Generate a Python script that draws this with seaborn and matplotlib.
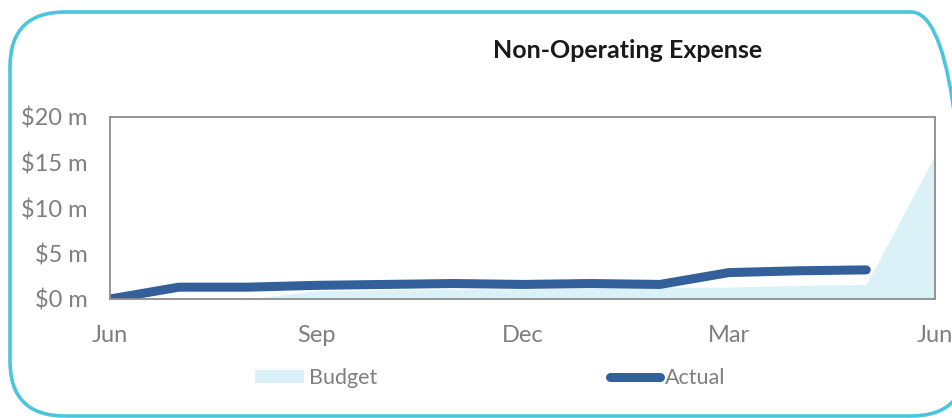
import numpy as np
import pandas as pd
import matplotlib
matplotlib.use("Agg")
import matplotlib.pyplot as plt
import matplotlib.transforms as mtransforms
import seaborn as sns
from matplotlib.patches import FancyBboxPatch, Patch
from matplotlib.lines import Line2D

# ---- data ----
months = ["Jun", "Jul", "Aug", "Sep", "Oct", "Nov", "Dec", "Jan", "Feb", "Mar", "Apr", "May", "Jun"]
budget = [0.0, 0.0, 0.0, 0.9, 1.0, 1.1, 1.1, 1.2, 1.3, 1.3, 1.5, 1.6, 15.8]
actual = [0.0, 1.3, 1.3, 1.5, 1.6, 1.7, 1.6, 1.7, 1.6, 2.9, 3.1, 3.2, np.nan]
tick_labels = ["Jun", "Sep", "Dec", "Mar", "Jun"]
y_ticks = [0, 5, 10, 15, 20]
y_labels = ["$0 m", "$5 m", "$10 m", "$15 m", "$20 m"]
title = "Non-Operating Expense"

df = pd.DataFrame({"idx": np.arange(len(months)), "month": months,
                   "Budget": budget, "Actual": actual})

sns.set_theme(style="white")
plt.rcParams["font.family"] = ["Lato", "DejaVu Sans"]

W, H = 953, 418
fig = plt.figure(figsize=(W / 100, H / 100), dpi=100)
fig.patch.set_facecolor("white")

# rounded frame (pixel coordinates)
frame = FancyBboxPatch((10, 2), 966 - 10, 406 - 2,
                       boxstyle="round,pad=0,rounding_size=55",
                       transform=mtransforms.IdentityTransform(), facecolor="none",
                       edgecolor="#4cc5df", linewidth=2.6, clip_on=False)
fig.patches.append(frame)

ax = fig.add_axes([110 / W, 1 - 299 / H, (935 - 110) / W, (299 - 117) / H])

budget_color = "#daf1f7"
actual_color = "#33609a"
grey = "#7f7f7f"

ax.fill_between(df["idx"], 0, df["Budget"], color=budget_color, linewidth=0)
sns.lineplot(data=df, x="idx", y="Actual", ax=ax, color=actual_color,
             linewidth=6.5, solid_capstyle="round", solid_joinstyle="round")

ax.set_xlim(0, 12)
ax.set_ylim(0, 20)
ax.set_xticks([0, 3, 6, 9, 12])
ax.set_xticklabels(tick_labels)
ax.set_yticks(y_ticks)
ax.set_yticklabels(y_labels)
ax.set_xlabel("")
ax.set_ylabel("")

for s in ax.spines.values():
    s.set_color("#8c8c8c")
    s.set_linewidth(1.3)
    s.set_visible(True)

ax.tick_params(axis="both", which="both", direction="out", colors="#8c8c8c",
               labelcolor=grey, labelsize=17, length=7, width=1.3)
ax.tick_params(axis="y", pad=9)
ax.tick_params(axis="x", pad=12)

fig.text(628 / W, 1 - 50 / H, title, ha="center", va="center",
         fontsize=18, fontweight="bold", color="#1a1a1a")

handles = [Patch(facecolor=budget_color, edgecolor="none"),
           Line2D([0], [0], color=actual_color, linewidth=6.5, solid_capstyle="round")]
fig.legend(handles, ["Budget", "Actual"], loc="center",
           bbox_to_anchor=(490 / W, 1 - 378 / H), ncol=2, frameon=False,
           fontsize=15.5, labelcolor=grey, handlelength=2.3, handleheight=0.6,
           handletextpad=0.25, columnspacing=10.8)

fig.savefig("out.png", dpi=100, facecolor="white")
